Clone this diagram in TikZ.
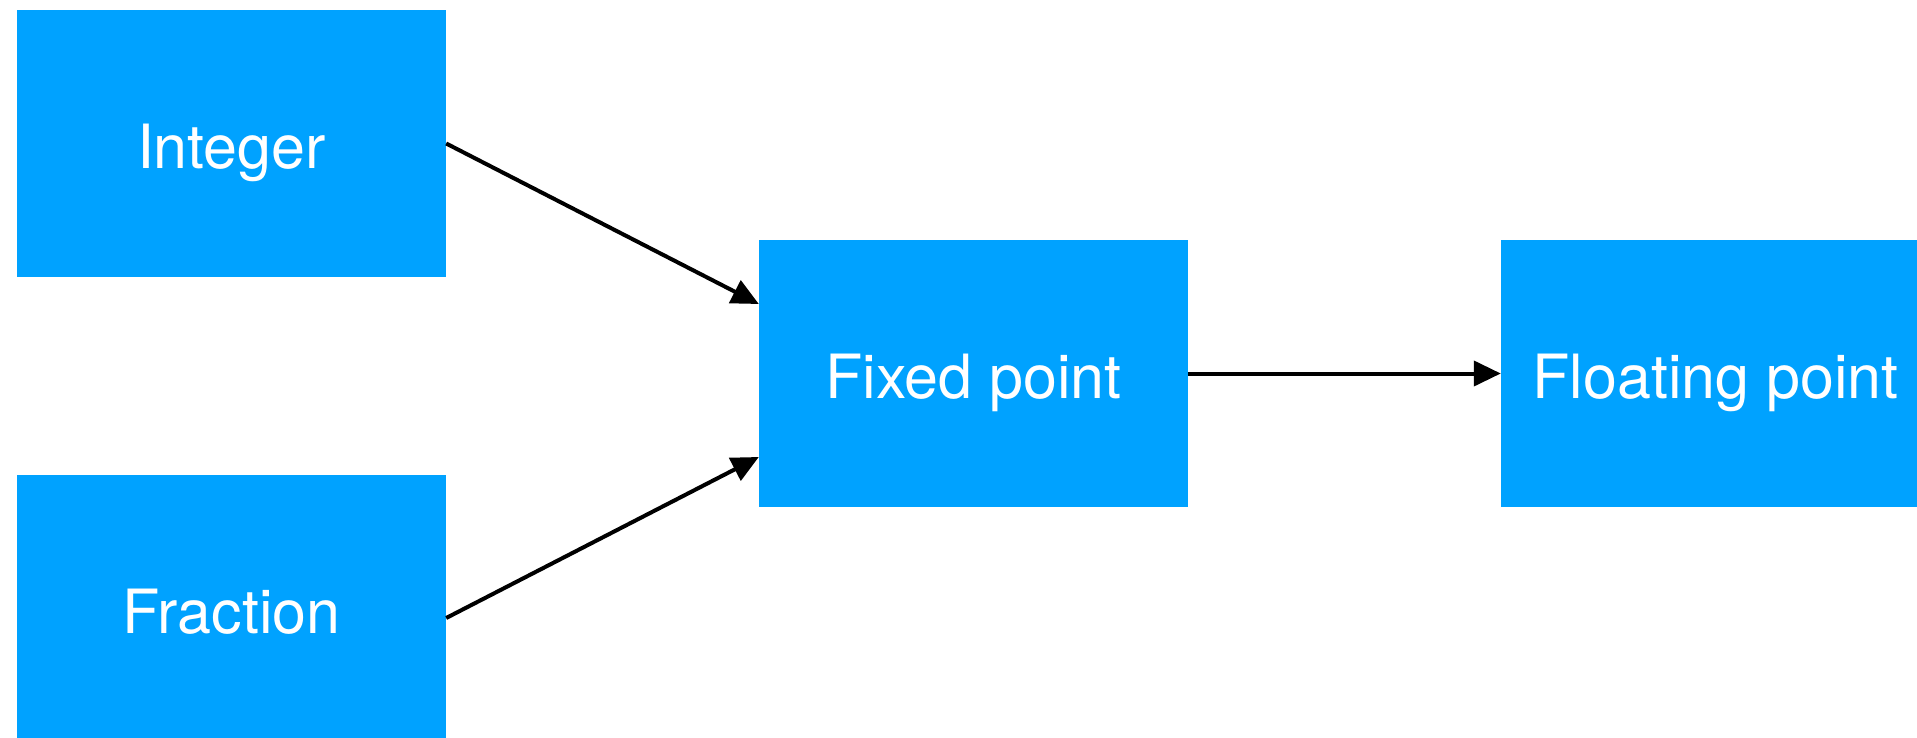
\documentclass[tikz,border=0pt]{standalone}
\usepackage{fontspec}
\setmainfont{TeX Gyre Heros}
\usetikzlibrary{arrows.meta}
\definecolor{boxblue}{RGB}{0,162,255}
\begin{document}
\begin{tikzpicture}[x=1pt,y=-1pt,
  bluebox/.style={rectangle, fill=boxblue, draw=none, inner sep=0pt,
    minimum width=429pt, minimum height=267pt, text=white,
    text height=50pt, text depth=0pt,
    font=\fontsize{61}{72}\selectfont},
  conn/.style={line width=4pt, -{Triangle[length=27pt,width=25pt]}}]
\useasboundingbox (0,0) rectangle (1917,738);
\node[bluebox] (int) at (231.5,143.5) {Integer};
\node[bluebox] (frac) at (231.5,608.5) {Fraction};
\node[bluebox] (fix) at (973.5,373.5) {Fixed point};
\node[bluebox] (flt) at (1715.5,373.5) {Floating point};
\draw[conn] (int.east) -- ([yshift=69.5pt]fix.west);
\draw[conn] ([yshift=-9.5pt]frac.east) -- ([yshift=-83.5pt]fix.west);
\draw[conn] (fix.east) -- (flt.west);
\end{tikzpicture}
\end{document}
